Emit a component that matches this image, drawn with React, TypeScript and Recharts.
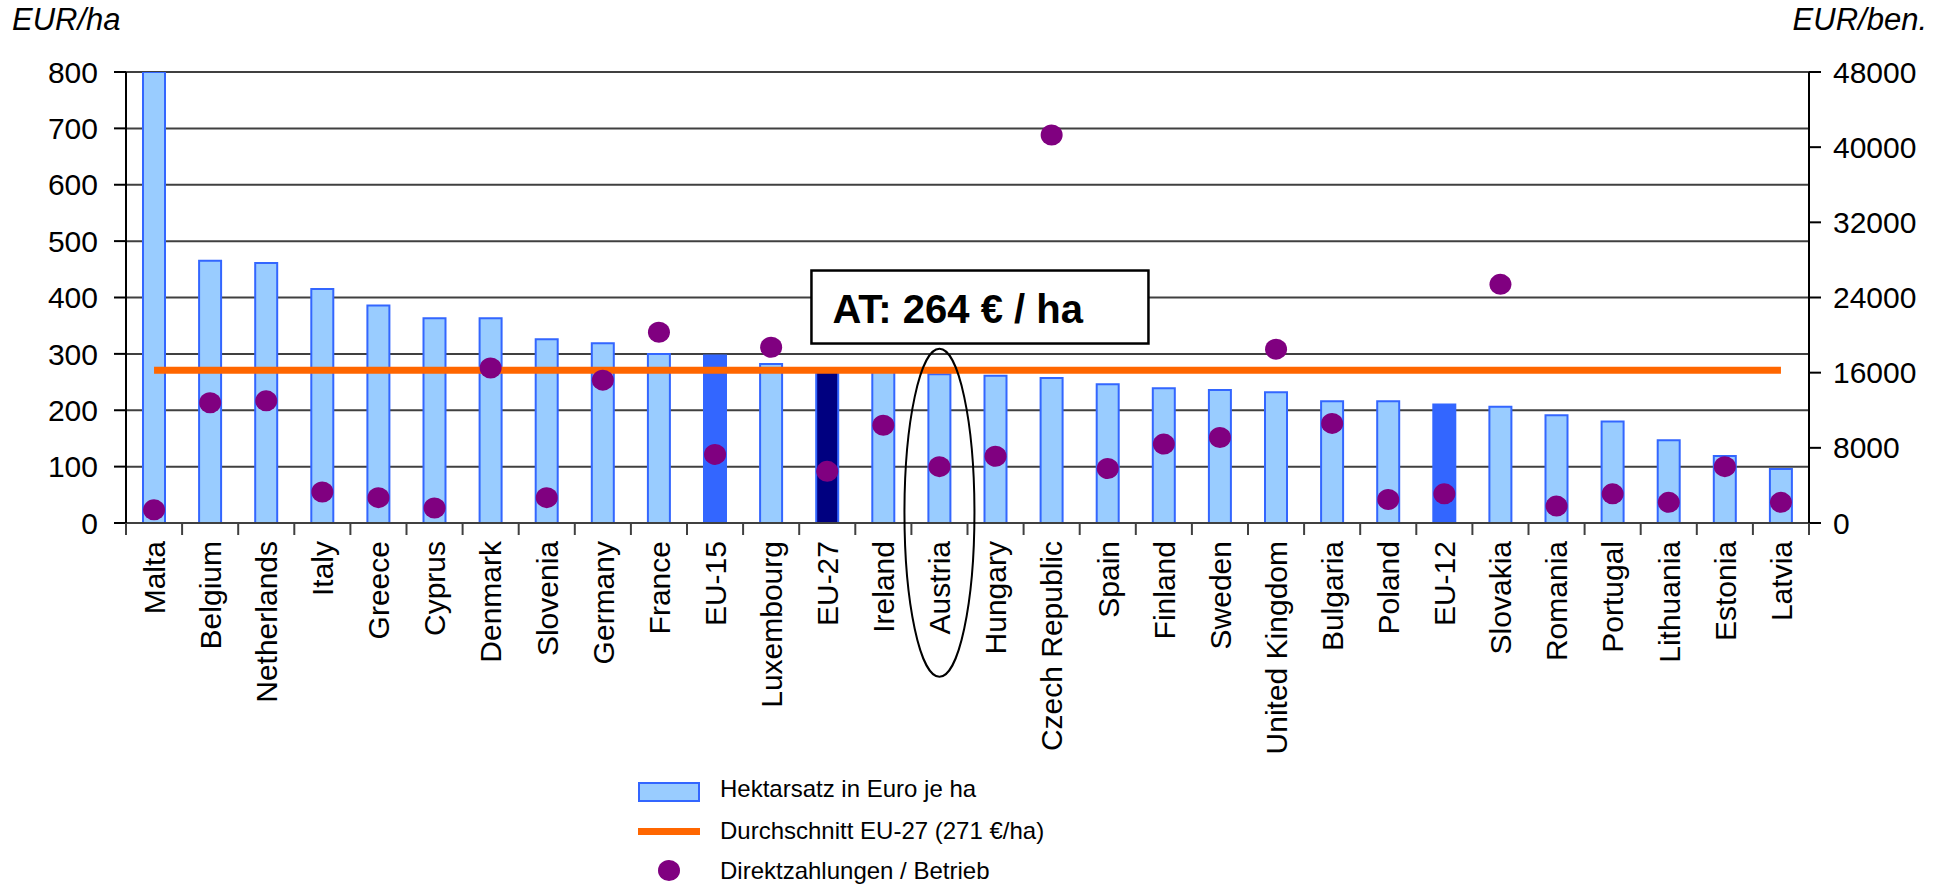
import {
  ComposedChart,
  Bar,
  Cell,
  Scatter,
  XAxis,
  YAxis,
  CartesianGrid,
  ReferenceLine,
  ReferenceDot,
} from 'recharts'

const categories = [
  'Malta', 'Belgium', 'Netherlands', 'Italy', 'Greece', 'Cyprus', 'Denmark', 'Slovenia',
  'Germany', 'France', 'EU-15', 'Luxembourg', 'EU-27', 'Ireland', 'Austria', 'Hungary',
  'Czech Republic', 'Spain', 'Finland', 'Sweden', 'United Kingdom', 'Bulgaria', 'Poland',
  'EU-12', 'Slovakia', 'Romania', 'Portugal', 'Lithuania', 'Estonia', 'Latvia',
]

// Hektarsatz in Euro je ha (left axis)
const hektarsatz = [
  800, 465, 461, 415, 386, 363, 363, 326, 319, 300, 297, 282, 271, 270, 264, 261,
  257, 246, 239, 236, 232, 216, 216, 210, 206, 191, 180, 147, 119, 96,
]

// Direktzahlungen / Betrieb (right axis)
const betrieb = [
  1400, 12800, 13000, 3300, 2700, 1600, 16500, 2700, 15200, 20300, 7300, 18700, 5500, 10400,
  6000, 7100, 41300, 5800, 8400, 9100, 18500, 10600, 2500, 3100, 25400, 1800, 3100, 2200,
  6000, 2200,
]

const eu27Average = 271
const atValue = 264

const leftTicks = [0, 100, 200, 300, 400, 500, 600, 700, 800]
const rightTicks = [0, 8000, 16000, 24000, 32000, 40000, 48000]

const barColors: Record<string, string> = {
  'EU-15': '#3366FF',
  'EU-12': '#3366FF',
  'EU-27': '#000080',
}

const data = categories.map((name, i) => ({
  name,
  hektar: hektarsatz[i],
  betrieb: betrieb[i],
}))

const FONT = '"Liberation Sans", Arial, sans-serif'

const CategoryTick = (props: any) => {
  const { x, y, payload, index } = props
  const half = payload?.offset ?? 28
  return (
    <g>
      <line x1={x - half} y1={y} x2={x - half} y2={y + 12} stroke="#404040" strokeWidth={2} />
      {index === categories.length - 1 && (
        <line x1={x + half} y1={y} x2={x + half} y2={y + 12} stroke="#404040" strokeWidth={2} />
      )}
      <text
        x={x}
        y={y + 18}
        transform={`rotate(-90, ${x}, ${y + 18})`}
        textAnchor="end"
        dy="0.36em"
        fontSize={30}
        fill="#000"
      >
        {payload.value}
      </text>
    </g>
  )
}

const Dot = (props: any) => {
  const { cx, cy } = props
  if (cx == null || cy == null) return null
  return <ellipse cx={cx} cy={cy} rx={11} ry={10.5} fill="#800080" />
}

const legendText = {
  position: 'absolute' as const,
  left: 720,
  fontSize: 24,
  lineHeight: '24px',
  whiteSpace: 'nowrap' as const,
  color: '#000',
}

const App = () => {
  return (
    <div
      style={{
        position: 'absolute',
        left: 0,
        top: 0,
        width: 1942,
        height: 886,
        background: '#fff',
        fontFamily: FONT,
        overflow: 'hidden',
      }}
    >
      <div style={{ position: 'absolute', left: 12, top: 2, fontSize: 31, fontStyle: 'italic' }}>
        EUR/ha
      </div>
      <div style={{ position: 'absolute', right: 15, top: 2, fontSize: 31, fontStyle: 'italic' }}>
        EUR/ben.
      </div>

      <ComposedChart
        width={1942}
        height={886}
        data={data}
        margin={{ top: 72, right: 0, bottom: 0, left: 0 }}
        barCategoryGap={0}
      >
        <CartesianGrid yAxisId="left" vertical={false} stroke="#404040" strokeWidth={2} />
        <XAxis
          dataKey="name"
          interval={0}
          height={363}
          tickSize={0}
          tickMargin={0}
          tickLine={false}
          axisLine={{ stroke: '#404040', strokeWidth: 2 }}
          tick={<CategoryTick />}
        />
        <YAxis
          yAxisId="left"
          orientation="left"
          width={126}
          domain={[0, 800]}
          ticks={leftTicks}
          allowDataOverflow
          tickSize={12}
          tickMargin={16}
          tick={{ fontSize: 30, fill: '#000' }}
          axisLine={{ stroke: '#000', strokeWidth: 2 }}
          tickLine={{ stroke: '#000', strokeWidth: 2 }}
        />
        <YAxis
          yAxisId="right"
          orientation="right"
          width={133}
          domain={[0, 48000]}
          ticks={rightTicks}
          tickSize={12}
          tickMargin={12}
          tick={{ fontSize: 30, fill: '#000' }}
          axisLine={{ stroke: '#000', strokeWidth: 2 }}
          tickLine={{ stroke: '#000', strokeWidth: 2 }}
        />
        <Bar
          yAxisId="left"
          dataKey="hektar"
          barSize={22}
          stroke="#3366FF"
          strokeWidth={2}
          isAnimationActive={false}
        >
          {data.map((d) => (
            <Cell key={d.name} fill={barColors[d.name] ?? '#99CCFF'} />
          ))}
        </Bar>
        <ReferenceLine
          yAxisId="left"
          segment={[
            { x: categories[0], y: eu27Average },
            { x: categories[categories.length - 1], y: eu27Average },
          ]}
          stroke="#FF6600"
          strokeWidth={7}
        />
        <Scatter
          yAxisId="right"
          dataKey="betrieb"
          fill="#800080"
          shape={<Dot />}
          isAnimationActive={false}
        />
        <ReferenceDot
          yAxisId="left"
          x="Austria"
          y={18}
          shape={(p: any) => (
            <ellipse cx={p.cx} cy={p.cy} rx={35} ry={164} fill="none" stroke="#000" strokeWidth={2} />
          )}
        />
        <ReferenceDot
          yAxisId="left"
          x="Austria"
          y={384}
          shape={(p: any) => (
            <g>
              <rect
                x={p.cx - 128}
                y={p.cy - 36}
                width={337}
                height={73}
                fill="#fff"
                stroke="#000"
                strokeWidth={2.5}
              />
              <text x={p.cx - 107} y={p.cy + 16} fontSize={40} fontWeight="bold" fill="#000">
                {`AT: ${atValue} € / ha`}
              </text>
            </g>
          )}
        />
      </ComposedChart>

      {/* legend */}
      <div
        style={{
          position: 'absolute',
          left: 638,
          top: 782,
          width: 58,
          height: 16,
          background: '#99CCFF',
          border: '2px solid #3366FF',
        }}
      />
      <div style={{ ...legendText, top: 777 }}>Hektarsatz in Euro je ha</div>

      <div
        style={{ position: 'absolute', left: 638, top: 828, width: 62, height: 7, background: '#FF6600' }}
      />
      <div style={{ ...legendText, top: 819 }}>Durchschnitt EU-27 (271 €/ha)</div>

      <div
        style={{
          position: 'absolute',
          left: 658,
          top: 860,
          width: 22,
          height: 21,
          borderRadius: '50%',
          background: '#800080',
        }}
      />
      <div style={{ ...legendText, top: 859 }}>Direktzahlungen / Betrieb</div>
    </div>
  )
}

export default App
